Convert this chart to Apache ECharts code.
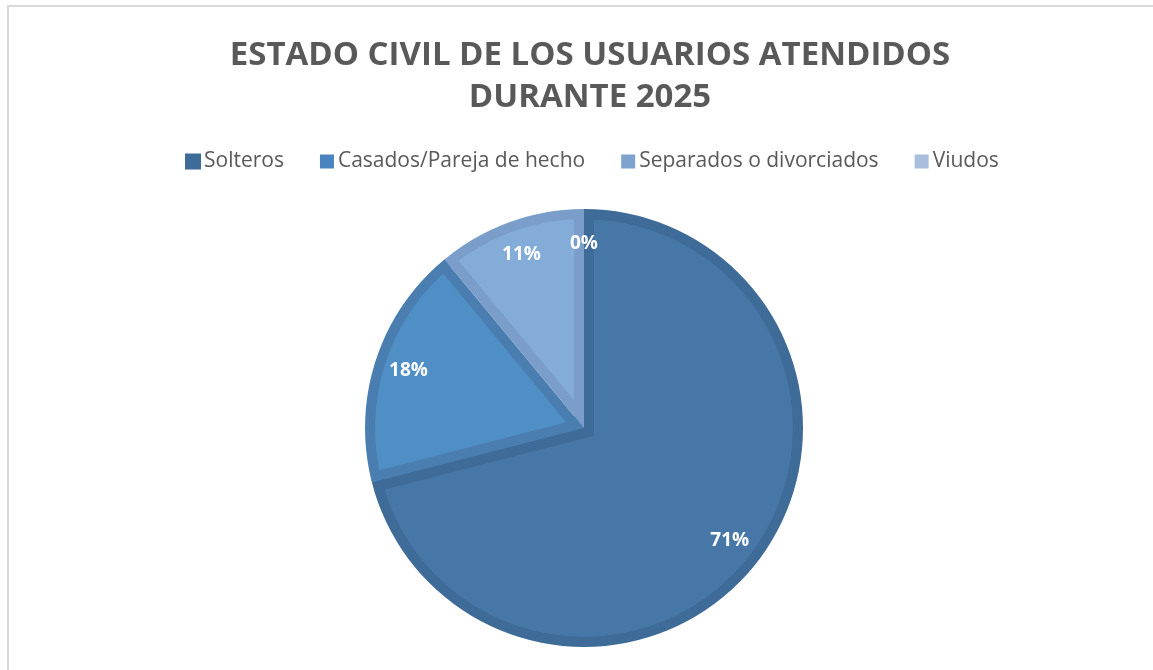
<!DOCTYPE html>
<html>
<head>
<meta charset="utf-8">
<script src="https://cdn.jsdelivr.net/npm/echarts@6/dist/echarts.min.js"></script>
<style>
html, body { margin: 0; padding: 0; background: #fff; }
#frame {
  position: absolute; left: 7px; top: 5px; width: 1160px; height: 680px;
  border-left: 2px solid #d9d9d9; border-top: 2px solid #d9d9d9;
}
#myChart { position: absolute; left: 0; top: 0; width: 1153px; height: 670px; }
</style>
</head>
<body>
<div id="frame"></div>
<div id="myChart"></div>
<script>
// categorías y valores (porcentaje)
const categorias = ['Solteros', 'Casados/Pareja de hecho', 'Separados o divorciados', 'Viudos'];
const valores = [71, 18, 11, 0];
// colores: relleno, borde de cada sector y leyenda
const rellenos = ['#4677a7', '#508ec6', '#84acd9', '#a9c1de'];
const bordes = ['#3f6b98', '#4a7eb0', '#7a9ec9', '#9db5d3'];
const coloresLeyenda = ['#3e6c9a', '#4a84c0', '#7ea3cf', '#a7bfdc'];

const centro = [584, 428];
const R = 219;      // radio exterior
const borde = 10;   // grosor del borde de cada sector
const transparente = 'rgba(0,0,0,0)';

const myChart = echarts.init(document.getElementById('myChart'));

// ángulos de cada sector (grados, sentido horario desde arriba)
const total = valores.reduce((a, b) => a + b, 0);
let acum = 0;
const angulos = valores.map(v => {
  const a0 = 90 - 360 * acum / total;
  acum += v;
  const a1 = 90 - 360 * acum / total;
  return [a0, a1];
});

// pie base: solo se ven los sectores elegidos, con el estilo dado
function pieSolo(visibles, estilo, extra) {
  return Object.assign({
    type: 'pie',
    center: centro,
    radius: R,
    startAngle: 90,
    clockwise: true,
    silent: true,
    label: { show: false },
    labelLine: { show: false },
    data: categorias.map((c, i) => ({
      name: c,
      value: valores[i],
      itemStyle: visibles(i) && valores[i] > 0 ? estilo(i) : { color: transparente, borderWidth: 0 }
    }))
  }, extra || {});
}

const series = [];

// 1. sector grande: relleno + borde por ambos lados de sus aristas
series.push(pieSolo(i => i === 0, i => ({
  color: rellenos[i], borderColor: bordes[i], borderWidth: borde * 2, borderJoin: 'miter'
})));

// 2. resto de sectores completos en el color del borde
series.push(pieSolo(i => i !== 0, i => ({ color: bordes[i], borderWidth: 0 })));

// 3. rellenos interiores de los sectores pequeños (desplazados hacia dentro)
valores.forEach((v, i) => {
  if (i === 0 || v <= 0) return;
  const [a0, a1] = angulos[i];
  const medio = (a0 + a1) / 2 * Math.PI / 180;
  const mitad = Math.abs(a0 - a1) / 2 * Math.PI / 180;
  const t = borde / Math.sin(mitad);
  series.push(pieSolo(j => j === i, j => ({ color: rellenos[j], borderWidth: 0 }), {
    center: [centro[0] + t * Math.cos(medio), centro[1] - t * Math.sin(medio)],
    radius: R - borde
  }));
});

// 4. anillo exterior del borde
series.push(pieSolo(() => true, i => ({ color: bordes[i], borderWidth: 0 }), {
  radius: [R - borde, R]
}));

// 5. anillo blanco (una sola pieza) para recortar lo que sobresale
series.push({
  type: 'pie',
  center: centro,
  radius: [R, R + 30],
  silent: true,
  label: { show: false },
  labelLine: { show: false },
  itemStyle: { color: '#ffffff', borderWidth: 0 },
  data: [{ name: '', value: 1 }]
});

// 6. etiquetas
series.push({
  type: 'pie',
  center: centro,
  radius: [144, R],
  startAngle: 90,
  clockwise: true,
  silent: true,
  itemStyle: { color: transparente },
  label: {
    show: true,
    position: 'inside',
    color: '#fff',
    fontFamily: 'Open Sans',
    fontWeight: 'bold',
    fontSize: 19,
    formatter: p => Math.round(p.percent) + '%'
  },
  labelLine: { show: false },
  data: categorias.map((c, i) => ({ name: c, value: valores[i] }))
});

const option = {
  animation: false,
  title: {
    text: 'ESTADO CIVIL DE LOS USUARIOS ATENDIDOS\nDURANTE 2025',
    left: 585,
    textAlign: 'center',
    top: 30,
    textStyle: {
      fontFamily: 'Open Sans',
      fontWeight: 'bold',
      fontSize: 33,
      lineHeight: 42,
      color: '#595959'
    }
  },
  legend: {
    top: 146,
    left: 180,
    itemWidth: 14,
    itemHeight: 14,
    itemGap: 36,
    icon: 'rect',
    textStyle: { fontFamily: 'Open Sans', fontSize: 21, color: '#595959', padding: [0, 0, 0, -1] },
    data: categorias.map((c, i) => ({ name: c, itemStyle: { color: coloresLeyenda[i] } }))
  },
  series: series
};

myChart.setOption(option);
</script>
</body>
</html>
